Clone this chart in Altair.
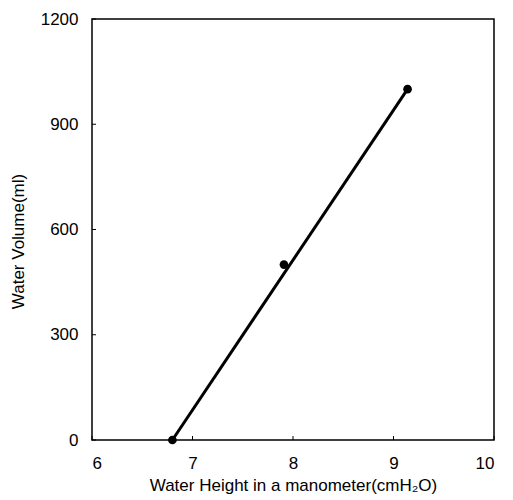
import altair as alt
import pandas as pd

# Data
height_cm = [6.8, 7.91, 9.14]
volume_ml = [0, 500, 1000]
fit_height = [6.8, 9.14]
fit_volume = [0, 1000]
x_ticks = [6, 7, 8, 9, 10]
y_ticks = [0, 300, 600, 900, 1200]

pts = pd.DataFrame({"h": height_cm, "v": volume_ml})
fit = pd.DataFrame({"h": fit_height, "v": fit_volume})
xt = pd.DataFrame({"h": x_ticks})
yt = pd.DataFrame({"v": y_ticks})

W, H = 402, 421
FONT = "Liberation Sans"

xs = alt.Scale(domain=[6, 10], nice=False, zero=False)
ys = alt.Scale(domain=[0, 1200], nice=False, zero=False)

xaxis = alt.Axis(values=x_ticks, ticks=False, domain=False, grid=False, format="d",
                 labelPadding=15, labelFontSize=17, labelFont=FONT, labelColor="black",
                 title="Water Height in a manometer(cmH₂O)", titleFontSize=17,
                 titleFont=FONT, titleFontWeight="normal", titleColor="black",
                 titlePadding=6)
yaxis = alt.Axis(values=y_ticks, ticks=False, domain=False, grid=False, format="d",
                 labelPadding=14, labelFontSize=17, labelFont=FONT, labelColor="black",
                 title="Water Volume(ml)", titleFontSize=17, titleFont=FONT,
                 titleFontWeight="normal", titleColor="black",
                 titleX=-65, titleY=222)

X = alt.X("h:Q", scale=xs, axis=xaxis)
Y = alt.Y("v:Q", scale=ys, axis=yaxis)

line = alt.Chart(fit).mark_line(color="black", strokeWidth=3).encode(x=X, y=Y)
points = alt.Chart(pts).mark_circle(color="black", size=75, opacity=1).encode(x=X, y=Y)
xtick = alt.Chart(xt).mark_rule(color="black", strokeWidth=1).encode(
    x=X, y=alt.value(H), y2=alt.value(H - 4))
ytick = alt.Chart(yt).mark_rule(color="black", strokeWidth=1).encode(
    y=Y, x=alt.value(0), x2=alt.value(4))

chart = alt.layer(xtick, ytick, line, points).properties(
    width=W, height=H,
    autosize=alt.AutoSizeParams(type="none"),
    padding={"left": 84, "top": 11, "right": 11, "bottom": 60},
).configure_view(stroke="black", strokeWidth=1.5)

chart.save("out.html", embed_options={"renderer": "svg", "actions": False})
